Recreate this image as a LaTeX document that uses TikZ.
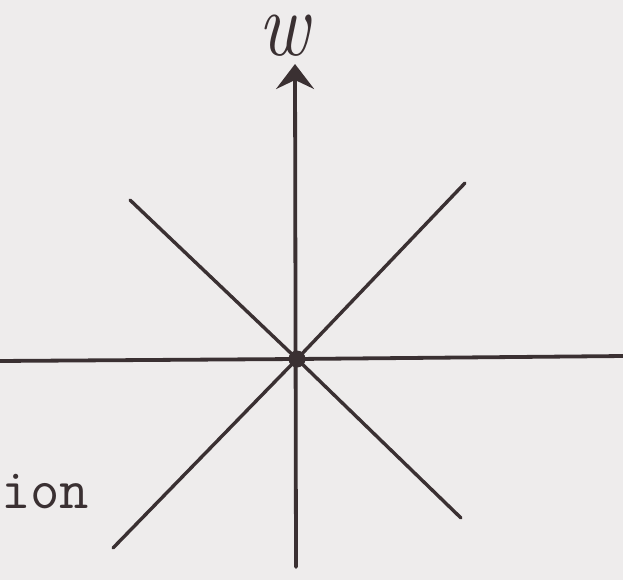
\documentclass[tikz,border=0pt]{standalone}
\usetikzlibrary{arrows.meta}
\definecolor{paper}{RGB}{238,236,236}
\definecolor{ink}{RGB}{58,48,50}
\begin{document}
\begin{tikzpicture}[x=1pt,y=-1pt,
  axis/.style={draw=ink,line width=3.8pt,line cap=round},
  ray/.style={draw=ink,line width=3.4pt,line cap=round}]
\fill[paper] (0,0) rectangle (623,580);
\useasboundingbox (0,0) rectangle (623,580);
% named points
\node[circle,fill=ink,inner sep=0pt,minimum size=17pt] (O) at (297,359) {};
\coordinate (top) at (295,64);
\coordinate (bot) at (296,567);
\coordinate (left) at (-2,361);
\coordinate (right) at (625,356);
\coordinate (tl) at (130,200);
\coordinate (br) at (461,518);
\coordinate (tr) at (465,183);
\coordinate (bl) at (113,548);
% lines
\draw[axis] (left) -- (O.center) -- (right);
\draw[axis,-{Stealth[length=25pt,width=38pt,inset=9pt]}] (bot) -- (top);
\draw[ray] (tl) -- (O.center) -- (br);
\draw[ray] (tr) -- (O.center) -- (bl);
% labels
\node[text=ink,font=\fontsize{92}{92}\selectfont\itshape,xscale=0.85,inner sep=0pt,anchor=base] (w) at (284,56) {w};
\node[text=ink,font=\fontsize{57}{60}\selectfont\ttfamily,anchor=base west,inner sep=0pt] (ion) at (1,508) {ion};
\end{tikzpicture}
\end{document}
